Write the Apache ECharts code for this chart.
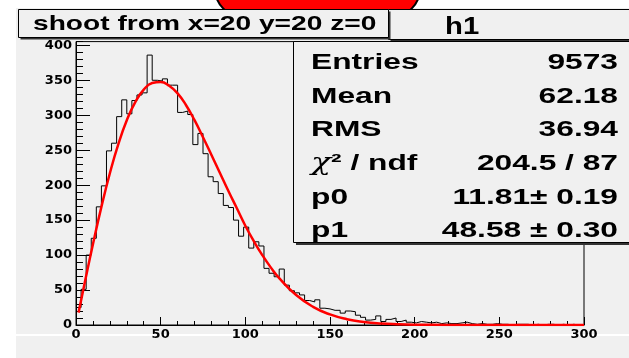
<!DOCTYPE html>
<html>
<head>
<meta charset="utf-8">
<script src="https://cdn.jsdelivr.net/npm/echarts@6/dist/echarts.min.js"></script>
<style>
html,body{margin:0;padding:0;background:#fff;}
#c{width:629px;height:358px;}
</style>
</head>
<body>
<div id="c"></div>
<script>
// ---- data ----
const binLow = 0, binWidth = 3;            // 100 bins from 0 to 300
const binValues = [
  25, 51, 100, 124, 169, 199, 249, 260, 298, 322,
  302, 321, 329, 332, 386, 350, 349, 352, 343, 343,
  304, 306, 301, 258, 274, 245, 212, 205, 188, 171,
  168, 150, 127, 140, 110, 119, 113, 81, 74, 69,
  80, 57, 49, 46, 43, 35, 33, 36, 24, 23,
  21, 21, 17, 20, 19, 14, 11, 7, 8, 13,
  5, 8, 10, 5, 7, 4, 3, 5, 4, 3,
  4, 2, 3, 2, 2, 3, 4, 2, 1, 2,
  1, 1, 2, 1, 1, 0, 1, 1, 1, 0,
  1, 0, 1, 1, 0, 1, 0, 1, 0, 0
];
const fitX = [1.5, 5, 10, 15, 20, 25, 30, 35, 40, 45, 50, 55, 60, 65, 70, 75, 80, 85, 90, 95,
              100, 105, 110, 115, 120, 130, 140, 150, 160, 170, 180, 190, 200, 220, 250, 300];
const fitY = [17.7, 58.7, 115.6, 168.9, 217.0, 258.6, 292.8, 318.8, 336.6, 346.0, 347.6, 342.2,
              331.2, 314.3, 292.9, 268.5, 243.2, 217.4, 191.7, 166.9, 142.0, 119.9, 100.0, 82.4,
              67.0, 42.8, 26.0, 15.1, 8.3, 4.4, 2.2, 1.1, 0.5, 0.1, 0, 0];
const xTicks = [0, 50, 100, 150, 200, 250, 300];
const yTicks = [0, 50, 100, 150, 200, 250, 300, 350, 400];
const titleText = 'shoot from x=20 y=20 z=0';
const histName = 'h1';
const statLabels = ['Entries', 'Mean', 'RMS', '{chi|χ}² / ndf', 'p0', 'p1'];
const statValues = ['9573', '62.18', '36.94', '204.5 / 87', '11.81± 0.19', '48.58 ± 0.30'];
const yMax = 405.3;

// ---- build series data ----
const histData = binValues.map((v, i) => [binLow + i * binWidth, v]);
histData.push([binLow + binValues.length * binWidth, binValues[binValues.length - 1]]);
const fitData = fitX.map((x, i) => [x, fitY[i]]);

const GREY = '#f0f0f0';
const labelFont = {fontFamily: 'DejaVu Sans', fontWeight: 'bold', fontSize: 13, color: '#000'};

function txt(x, y, s, size, sx, align, z) {
  return {type: 'text', x: x, y: y, scaleX: sx, z: z || 120,
    style: {text: s, fontFamily: 'Liberation Sans', fontWeight: 'bold', fontSize: size, fill: '#000',
      align: align, textAlign: align, verticalAlign: 'middle', textVerticalAlign: 'middle',
      rich: {chi: {fontFamily: 'DejaVu Serif', fontStyle: 'italic', fontWeight: 'normal', fontSize: size + 1, fill: '#000'}}}};
}

const graphics = [
  // pad backgrounds
  {type: 'rect', z: -10, shape: {x: 16, y: 8, width: 613, height: 326}, style: {fill: GREY}},
  {type: 'rect', z: -10, shape: {x: 16, y: 336, width: 613, height: 22}, style: {fill: GREY}},
  // red shape at top
  {type: 'rect', z: 90, shape: {x: 215, y: -40, width: 205, height: 57, r: 30},
    style: {fill: '#ff0000', stroke: '#000', lineWidth: 2}},
  // h1 box
  {type: 'rect', z: 100, shape: {x: 390.5, y: 11.5, width: 250, height: 30}, style: {fill: '#333'}},
  {type: 'rect', z: 101, shape: {x: 388.5, y: 9.5, width: 250, height: 30}, style: {fill: GREY, stroke: '#000', lineWidth: 1}},
  // title box
  {type: 'rect', z: 104, shape: {x: 20.5, y: 11.5, width: 370, height: 28}, style: {fill: '#333'}},
  {type: 'rect', z: 105, shape: {x: 18.5, y: 9.5, width: 370, height: 28}, style: {fill: GREY, stroke: '#000', lineWidth: 1}},
  // stat box
  {type: 'rect', z: 102, shape: {x: 296, y: 44, width: 340, height: 201}, style: {fill: '#333'}},
  {type: 'rect', z: 103, shape: {x: 293.5, y: 41.5, width: 340, height: 201}, style: {fill: GREY, stroke: '#000', lineWidth: 1}},
  txt(33, 24, titleText, 21, 1.34, 'left', 120),
  txt(445, 27, histName, 24, 1.22, 'left', 120)
];
const rowY0 = 63, rowStep = 33.6;
statLabels.forEach((s, i) => graphics.push(txt(311, rowY0 + i * rowStep, s, 22.5, 1.41, 'left', 120)));
statValues.forEach((s, i) => graphics.push(txt(618, rowY0 + i * rowStep, s, 22.5, 1.41, 'right', 120)));

const chart = echarts.init(document.getElementById('c'), null, {renderer: 'canvas'});
chart.setOption({
  animation: false,
  backgroundColor: '#ffffff',
  grid: {left: 76, right: 45, top: 41.6, bottom: 33, show: true, borderColor: '#000', borderWidth: 1, backgroundColor: 'transparent'},
  xAxis: {
    type: 'value', min: xTicks[0], max: xTicks[xTicks.length - 1], interval: xTicks[1] - xTicks[0],
    axisLine: {show: true, onZero: false, lineStyle: {color: '#000', width: 1}},
    axisTick: {show: true, inside: true, length: 8, lineStyle: {color: '#000'}},
    minorTick: {show: true, splitNumber: 5, length: 4, lineStyle: {color: '#000'}},
    splitLine: {show: false},
    axisLabel: Object.assign({margin: 3}, labelFont)
  },
  yAxis: [{
    type: 'value', min: yTicks[0], max: yMax, interval: yTicks[1] - yTicks[0],
    axisLine: {show: true, onZero: false, lineStyle: {color: '#000', width: 1}},
    axisTick: {show: true, inside: true, length: 14, lineStyle: {color: '#000'}},
    splitLine: {show: false},
    axisLabel: Object.assign({margin: 4, showMaxLabel: false,
      formatter: v => (yTicks.indexOf(v) >= 0 ? String(v) : '')}, labelFont)
  }, {
    type: 'value', min: yTicks[0], max: yMax, interval: (yTicks[1] - yTicks[0]) / 5,
    position: 'left', offset: 0,
    axisLine: {show: false},
    axisTick: {show: true, inside: true, length: 7, lineStyle: {color: '#000'}},
    splitLine: {show: false},
    axisLabel: {show: false}
  }],
  series: [{
    type: 'line', step: 'end', data: histData, symbol: 'none', yAxisIndex: 0,
    lineStyle: {color: '#000', width: 1}, z: 3
  }, {
    type: 'line', smooth: true, data: fitData, symbol: 'none', yAxisIndex: 0,
    lineStyle: {color: '#ff0000', width: 2.5}, z: 4
  }],
  graphic: {elements: graphics}
});
</script>
</body>
</html>
